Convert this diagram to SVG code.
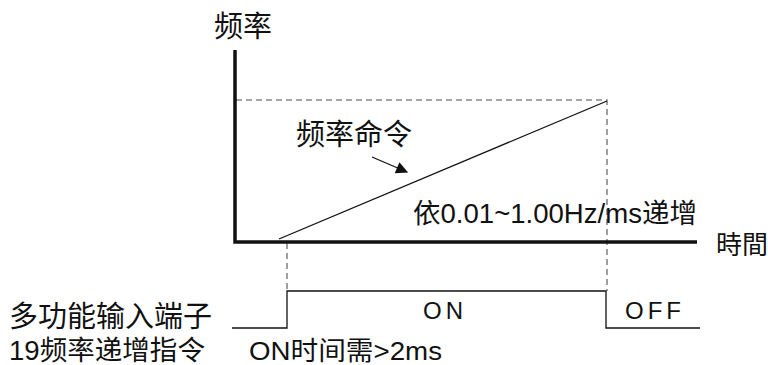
<svg xmlns="http://www.w3.org/2000/svg" width="768" height="365" viewBox="0 0 768 365">
<defs>
<style>
text{font-family:"Liberation Sans","Noto Sans CJK SC",sans-serif;fill:#111}
.ax{stroke:#111;stroke-width:3.5;fill:none}
.th{stroke:#111;stroke-width:1.3;fill:none}
.ds{stroke:#888;stroke-width:1.6;stroke-dasharray:6,4;fill:none}
</style>
<marker id="ah" viewBox="0 0 10 10" refX="9" refY="5" markerWidth="18" markerHeight="12" markerUnits="userSpaceOnUse" orient="auto">
<path d="M0,0 L10,5 L0,10 z" fill="#111"/>
</marker>
</defs>
<g id="connectors">
<path class="ds" d="M236,100 H607 V291"/>
<path class="ds" d="M287,243 V291"/>
<path class="ax" d="M235,50 V242 H697"/>
<path class="th" d="M279,239 L607,101"/>
<path class="th" d="M372,157 L407,172" marker-end="url(#ah)"/>
<path class="th" d="M232,328 H287 V291 H606 V328 H700"/>
</g>
<g id="label-freq"><text x="214" y="37" font-size="29">频率</text></g>
<g id="label-time"><text x="716" y="254" font-size="26">時間</text></g>
<g id="label-cmd"><text x="296" y="145" font-size="29">频率命令</text></g>
<g id="label-rate"><text x="413" y="223" font-size="27" textLength="284" lengthAdjust="spacingAndGlyphs">依0.01~1.00Hz/ms递增</text></g>
<g id="label-terminal"><text x="9" y="327" font-size="29">多功能输入端子</text></g>
<g id="label-cmd19"><text x="9" y="360" font-size="27" textLength="196" lengthAdjust="spacingAndGlyphs">19频率递增指令</text></g>
<g id="label-ontime"><text x="249" y="360" font-size="26" textLength="193" lengthAdjust="spacingAndGlyphs">ON时间需&gt;2ms</text></g>
<g id="label-on"><text x="423" y="319" font-size="24" letter-spacing="4">ON</text></g>
<g id="label-off"><text x="625" y="319" font-size="24" letter-spacing="4">OFF</text></g>
</svg>
